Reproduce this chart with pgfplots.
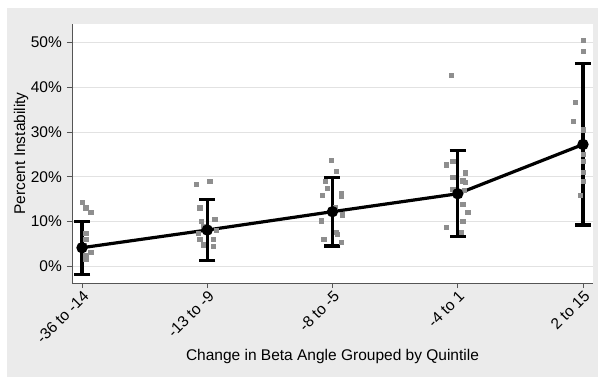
\documentclass[border=0pt]{standalone}
\usepackage{pgfplots}
\pgfplotsset{compat=1.18}
\usepackage{fontspec}
\setmainfont{Liberation Sans}
\definecolor{panel}{HTML}{EBEBEB}
\definecolor{pts}{HTML}{8E8E8E}
\definecolor{axcol}{HTML}{555555}
\definecolor{gridc}{HTML}{E2E2E2}
\begin{document}
\begin{tikzpicture}
\useasboundingbox (-72pt,-98pt) rectangle (531pt,283pt);
\fill[white] (-72pt,-98pt) rectangle (531pt,283pt);
\fill[panel] (-65pt,-94pt) rectangle (526pt,275pt);
\begin{axis}[
  at={(0pt,0pt)}, anchor=south west,
  scale only axis, width=521pt, height=259pt,
  xmin=-0.08, xmax=4.08, ymin=-3.73, ymax=54.1,
  axis background/.style={fill=white},
  axis x line*=bottom, axis y line*=left,
  axis line style={-, draw=axcol, line width=0.9pt},
  tick align=outside, major tick length=5pt,
  tick style={draw=axcol, line width=0.8pt},
  xtick={0,1,2,3,4},
  xticklabels={-36 to -14,-13 to -9,-8 to -5,-4 to 1,2 to 15},
  xticklabel style={rotate=45, anchor=north east, inner sep=1pt, font=\fontsize{15.5}{17}\selectfont},
  ytick={0,10,20,30,40,50},
  yticklabel={\pgfmathprintnumber{\tick}\%},
  /pgf/number format/assume math mode=true,
  yticklabel style={font=\fontsize{15.5}{17}\selectfont, inner sep=1pt, xshift=-4pt},
  ymajorgrids, grid style={draw=gridc, line width=0.8pt},
  xlabel={Change in Beta Angle Grouped by Quintile},
  ylabel={Percent Instability},
  label style={font=\fontsize{15.5}{17}\selectfont},
  ylabel style={yshift=-2pt},
  clip=false,
]
% individual observations (jittered)
\addplot[only marks, mark=square*, mark size=2.1pt, pts] coordinates {
 (0.00,14.3) (0.03,13.1) (0.07,12.0) (0.03,7.4) (0.03,6.0) (0.02,4.6) (0.07,3.2) (0.03,2.4) (0.03,1.5)
 (0.91,18.4) (1.02,19.0) (0.94,13.1) (0.95,10.0) (1.06,10.5) (0.97,9.0) (1.07,8.1) (0.93,7.4) (0.94,6.0) (1.05,6.1) (0.97,4.8) (1.05,4.4)
 (1.99,23.7) (2.03,21.3) (1.94,19.0) (1.96,17.5) (1.92,15.9) (2.07,16.3) (2.07,15.7) (2.02,13.2) (2.08,11.5) (1.91,10.2) (2.03,7.7) (2.04,7.1) (1.93,6.0) (2.07,5.4)
 (2.95,42.7) (2.91,22.7) (2.96,23.4) (3.06,20.9) (2.96,19.9) (3.04,19.1) (3.06,18.7) (2.96,17.2) (3.05,17.0) (3.04,13.8) (3.08,12.1) (3.04,10.0) (2.91,8.8) (3.03,7.7)
 (4.00,50.4) (4.00,48.0) (3.94,36.6) (3.92,32.4) (4.00,30.5) (4.00,25.0) (4.00,23.5) (4.00,21.0) (3.98,15.9) (4.00,19.0)
};
% means with 95% CI
\addplot[black, line width=3.2pt, mark=*, mark size=4pt,
  error bars/.cd, y dir=both, y explicit,
  error bar style={line width=3.2pt, black},
  error mark options={rotate=90, mark size=8pt, line width=3.2pt, black}]
 coordinates {
 (0,4.15) +- (0,5.9)
 (1,8.1) +- (0,6.8)
 (2,12.2) +- (0,7.65)
 (3,16.2) +- (0,9.6)
 (4,27.2) +- (0,18.0)
};
\end{axis}
\end{tikzpicture}
\end{document}
